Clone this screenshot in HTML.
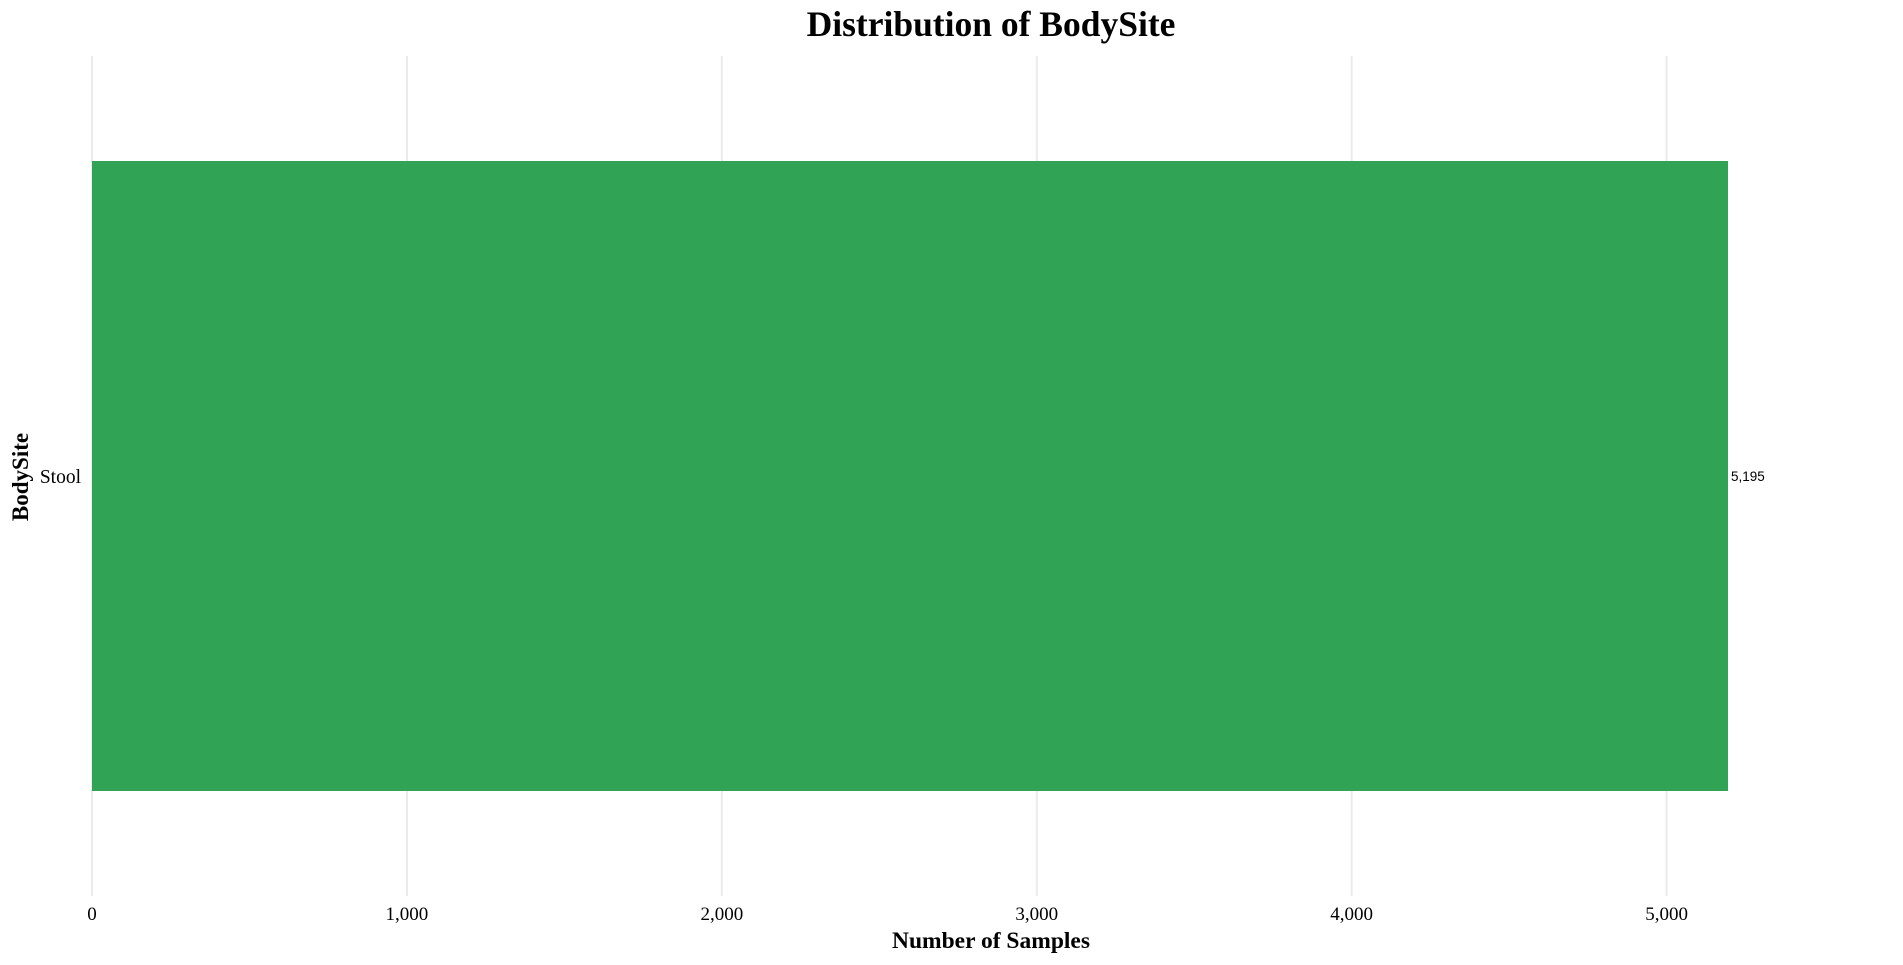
<!DOCTYPE html>
<html><head><meta charset="utf-8"><style>
html,body{margin:0;padding:0;background:#fff;}
svg{display:block;}
</style></head><body>
<svg id="chart" width="1903" height="965" xmlns="http://www.w3.org/2000/svg">
<text x="991" y="36" text-anchor="middle" font-family="Liberation Serif, serif" font-weight="bold" font-size="35.5" fill="#000">Distribution of BodySite</text>
<g id="grid"></g>
<g id="bars"></g>
<g id="xticks"></g>
<g id="yticks"></g>
<text x="991" y="948" text-anchor="middle" font-family="Liberation Serif, serif" font-weight="bold" font-size="23.5" fill="#000">Number of Samples</text>
<text transform="translate(28,477) rotate(-90)" text-anchor="middle" font-family="Liberation Serif, serif" font-weight="bold" font-size="23" fill="#000">BodySite</text>
</svg>
<script>
const categories = ["Stool"];
const values = [5195];
const xTicks = [0, 1000, 2000, 3000, 4000, 5000];
const valueLabels = ["5,195"];

const NS = "http://www.w3.org/2000/svg";
const x0 = 92, pxPerUnit = 1636 / 5195;
const plotTop = 56, plotBottom = 896;
function xScale(v){ return x0 + v * pxPerUnit; }
function yBand(i){
  const n = categories.length, step = (plotBottom - plotTop) / n;
  const pad = step * 0.125;
  return {y: plotTop + i*step + pad, h: step - 2*pad, c: plotTop + i*step + step/2};
}
function mk(tag, attrs, parent){
  const el = document.createElementNS(NS, tag);
  for (const k in attrs) el.setAttribute(k, attrs[k]);
  document.getElementById(parent).appendChild(el);
  return el;
}
function fmt(v){ return v.toLocaleString("en-US"); }

xTicks.forEach(t => {
  const gl = mk("line", {x1: xScale(t), x2: xScale(t), y1: plotTop, y2: plotBottom, stroke: "#ebebeb", "stroke-width": 2}, "grid");
  
  
  const tl = mk("text", {x: xScale(t), y: 920, "text-anchor": "middle", "font-family": "Liberation Serif, serif", "font-size": 19, fill: "#000"}, "xticks");
  tl.textContent = fmt(t);
  
  
});

categories.forEach((c, i) => {
  const b = yBand(i);
  const r = mk("rect", {x: xScale(0), y: b.y, width: xScale(values[i]) - xScale(0), height: b.h, fill: "#31a354"}, "bars");
  
  
  const lbl = mk("text", {x: xScale(values[i]) + 3, y: b.c + 5, "font-family": "Liberation Sans, sans-serif", "font-size": 13.5, fill: "#000"}, "bars");
  lbl.textContent = valueLabels[i];
  
  
  const yl = mk("text", {x: 81, y: b.c + 7, "text-anchor": "end", "font-family": "Liberation Serif, serif", "font-size": 19.5, fill: "#000"}, "yticks");
  yl.textContent = c;
  
  
});
</script>
</body></html>
